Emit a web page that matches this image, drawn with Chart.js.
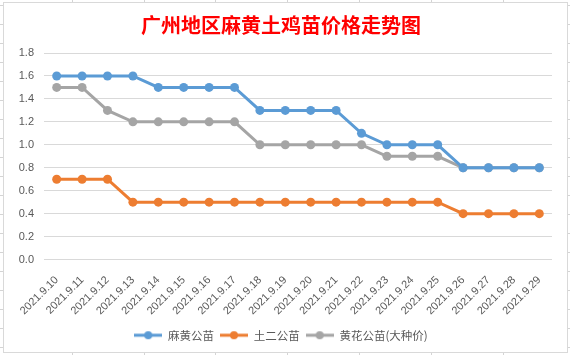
<!DOCTYPE html>
<html><head><meta charset="utf-8">
<script src="https://cdn.jsdelivr.net/npm/chart.js@4/dist/chart.umd.min.js"></script>
<style>html,body{margin:0;padding:0;background:#fff;}#wrap{width:570px;height:355px;position:relative;}</style>
</head><body><div id="wrap"><canvas id="c" width="570" height="355"></canvas></div>
<script>
const categories = ["2021.9.10","2021.9.11","2021.9.12","2021.9.13","2021.9.14","2021.9.15","2021.9.16","2021.9.17","2021.9.18","2021.9.19","2021.9.20","2021.9.21","2021.9.22","2021.9.23","2021.9.24","2021.9.25","2021.9.26","2021.9.27","2021.9.28","2021.9.29"];
const mahuang = [1.6,1.6,1.6,1.6,1.5,1.5,1.5,1.5,1.3,1.3,1.3,1.3,1.1,1.0,1.0,1.0,0.8,0.8,0.8,0.8];
const tuer = [0.7,0.7,0.7,0.5,0.5,0.5,0.5,0.5,0.5,0.5,0.5,0.5,0.5,0.5,0.5,0.5,0.4,0.4,0.4,0.4];
const huanghua = [1.5,1.5,1.3,1.2,1.2,1.2,1.2,1.2,1.0,1.0,1.0,1.0,1.0,0.9,0.9,0.9,0.8,0.8,0.8,0.8];
const seriesNames = ["麻黄公苗","土二公苗","黄花公苗(大种价)"];
const title = "广州地区麻黄土鸡苗价格走势图";
const colors = ["#5b9bd5","#ed7d31","#a5a5a5"];

function legendIcon(color){
  const cv=document.createElement('canvas'); cv.width=28; cv.height=10;
  const g=cv.getContext('2d');
  g.strokeStyle=color; g.lineWidth=3; g.beginPath(); g.moveTo(0,5); g.lineTo(28,5); g.stroke();
  g.fillStyle=color; g.beginPath(); g.arc(14,5,4,0,Math.PI*2); g.fill();
  return cv;
}
const icons = colors.map(legendIcon);

const bgPlugin = {
  id:'bg',
  beforeDraw(chart){
    const ctx=chart.ctx; ctx.save();
    ctx.fillStyle='#fff'; ctx.fillRect(0,0,570,355);
    ctx.strokeStyle='#d4d4d4'; ctx.lineWidth=1;
    for(const x of [72,144,215,287,359,431,503]){ctx.beginPath();ctx.moveTo(x+0.5,0);ctx.lineTo(x+0.5,355);ctx.stroke();}
    for(let y=5;y<355;y+=19){ctx.beginPath();ctx.moveTo(0,y+0.5);ctx.lineTo(570,y+0.5);ctx.stroke();}
    ctx.fillStyle='#fff'; ctx.fillRect(3,2,564,350);
    ctx.strokeStyle='#d9d9d9'; ctx.strokeRect(3.5,2.5,564,350);
    ctx.restore();
  }
};

new Chart(document.getElementById('c'),{
  type:'line',
  data:{labels:categories,datasets:[mahuang,tuer,huanghua].map((d,i)=>({
    label:seriesNames[i],data:d,borderColor:colors[i],backgroundColor:colors[i],
    borderWidth:3,pointRadius:4.5,pointBackgroundColor:colors[i],pointBorderWidth:0,tension:0,
    pointStyle:'circle'
  }))},
  options:{
    responsive:false,animation:false,devicePixelRatio:1,
    layout:{padding:{left:10,right:18,top:0,bottom:4}},
    plugins:{
      title:{display:true,text:title,color:'#ff0000',font:{family:'"Noto Sans CJK SC"',size:20,weight:'bold'},padding:{top:13,bottom:16}},
      legend:{position:'bottom',labels:{usePointStyle:true,pointStyleWidth:28,boxHeight:10,padding:6,color:'#595959',font:{family:'"Noto Sans CJK SC"',size:11.5},
        generateLabels(chart){
          return chart.data.datasets.map((ds,i)=>({text:ds.label,fillStyle:colors[i],strokeStyle:colors[i],lineWidth:0,pointStyle:icons[i],datasetIndex:i,hidden:false,fontColor:'#595959'}));
        }}},
      tooltip:{enabled:false}
    },
    scales:{
      y:{min:0,max:1.8,ticks:{stepSize:0.2,padding:10,color:'#595959',font:{family:'"Liberation Sans"',size:11},callback:v=>Number(v).toFixed(1)},
        grid:{color:'#d9d9d9',drawTicks:false},border:{display:false},
        afterFit(s){s.width=34;}},
      x:{offset:true,ticks:{minRotation:45,maxRotation:45,padding:6,color:'#595959',font:{family:'"Liberation Sans"',size:11},autoSkip:false},
        grid:{display:false,offset:true},border:{display:false}}
    }
  },
  plugins:[bgPlugin]
});
</script></body></html>
